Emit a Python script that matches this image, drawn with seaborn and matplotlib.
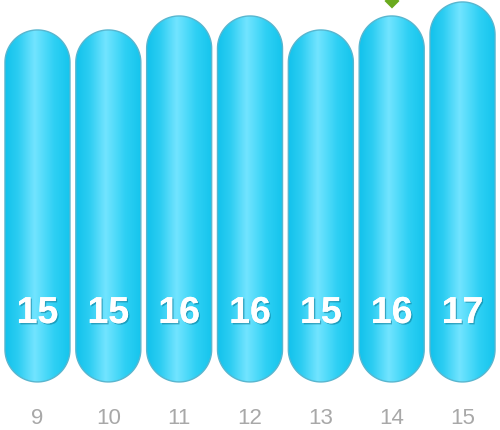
import numpy as np
import pandas as pd
import matplotlib
matplotlib.use("Agg")
import matplotlib.pyplot as plt
import matplotlib.patheffects as pe
from matplotlib.patches import Polygon
from matplotlib.colors import LinearSegmentedColormap
import seaborn as sns

# Data
days = ["9", "10", "11", "12", "13", "14", "15"]
values = [15, 15, 16, 16, 15, 16, 17]
marker_day = "14"

# Style
base = -10.14
bar_width = 0.918
sns.set_style("white")
plt.rcParams["font.family"] = ["Liberation Sans", "DejaVu Sans"]

df = pd.DataFrame({"day": days, "value": values})

fig = plt.figure(figsize=(5, 4.3), dpi=100)
ax = fig.add_axes([0, 30 / 430, 1, 400 / 430])
sns.barplot(data=df, x="day", y="value", ax=ax, width=bar_width,
            color="#22c8ef")

xlim = (-0.529, 6.529)
ylim = (-11.43, 17.14)
ax.set_xlim(xlim)
ax.set_ylim(ylim)
for s in ax.spines.values():
    s.set_visible(False)
ax.set_yticks([])
ax.set_xlabel("")
ax.set_ylabel("")
ax.tick_params(axis="x", length=0, pad=6, labelsize=16, labelcolor="#a8a8a8")

# aspect so the pill ends are round in pixels
bbox = ax.get_position()
px_w = bbox.width * 500
px_h = bbox.height * 430
asp = ((ylim[1] - ylim[0]) / px_h) / ((xlim[1] - xlim[0]) / px_w)

cmap = LinearSegmentedColormap.from_list(
    "pill", [(0, "#12c2ec"), (0.2, "#2ccdf2"), (0.45, "#72e4ff"),
             (0.75, "#2ed0f4"), (1, "#14c4ec")])
grad = np.linspace(0, 1, 256).reshape(1, -1)


def pill_points(x0, w, y0, y1):
    rx = w / 2
    ry = rx * asp
    cx = x0 + rx
    t = np.linspace(0, np.pi, 60)
    top = np.column_stack([cx + rx * np.cos(t), (y1 - ry) + ry * np.sin(t)])
    bot = np.column_stack([cx - rx * np.cos(t), (y0 + ry) - ry * np.sin(t)])
    return np.vstack([top, bot])


for p, v in zip(list(ax.patches), values):
    x0 = p.get_x()
    w = p.get_width()
    top = p.get_height()
    p.remove()
    pill = Polygon(pill_points(x0, w, base, top), closed=True,
                   facecolor="none", edgecolor="#58b6cf", linewidth=1.0,
                   zorder=3)
    ax.add_patch(pill)
    img = ax.imshow(grad, cmap=cmap, aspect="auto",
                    extent=(x0, x0 + w, base, top), zorder=2)
    img.set_clip_path(pill)
    ax.text(x0 + w / 2, -5.93, str(v), ha="center", va="baseline",
            color="white", fontsize=27, fontweight="bold", zorder=4,
            path_effects=[pe.withSimplePatchShadow(offset=(1, -1),
                                                   shadow_rgbFace="#0a6f8a",
                                                   alpha=0.5),
                          pe.Normal()])

ax.set_xlim(xlim)
ax.set_ylim(ylim)

# small green marker above the highlighted day
mi = days.index(marker_day)
ax.plot([mi], [17.1], marker="D", markersize=9, color="#6aaa1e",
        markeredgecolor="white", markeredgewidth=1.5, zorder=5, clip_on=True)

fig.savefig("out.png", dpi=100)
